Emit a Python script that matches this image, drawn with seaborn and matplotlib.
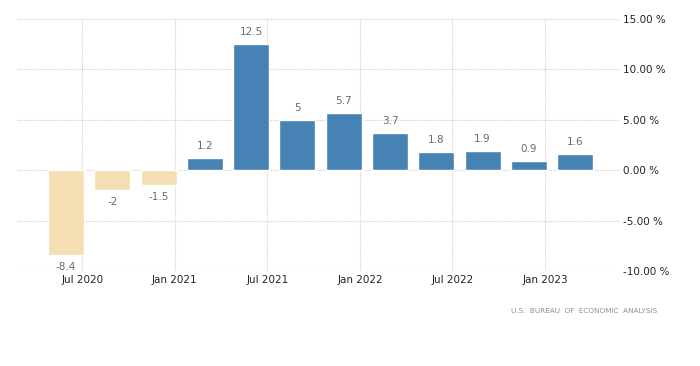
import seaborn as sns
import matplotlib.pyplot as plt
import pandas as pd

# quarterly GDP growth, Q2 2020 .. Q1 2023
quarters = ["2020Q2", "2020Q3", "2020Q4", "2021Q1", "2021Q2", "2021Q3",
            "2021Q4", "2022Q1", "2022Q2", "2022Q3", "2022Q4", "2023Q1"]
values = [-8.4, -2, -1.5, 1.2, 12.5, 5, 5.7, 3.7, 1.8, 1.9, 0.9, 1.6]
value_labels = ["-8.4", "-2", "-1.5", "1.2", "12.5", "5", "5.7", "3.7",
                "1.8", "1.9", "0.9", "1.6"]
x_tick_labels = ["Jul 2020", "Jan 2021", "Jul 2021", "Jan 2022",
                 "Jul 2022", "Jan 2023"]
y_ticks = [-10, -5, 0, 5, 10, 15]
source = "U.S.  BUREAU  OF  ECONOMIC  ANALYSIS"


def main():
    df = pd.DataFrame({"quarter": quarters, "value": values})
    df["sign"] = ["neg" if v < 0 else "pos" for v in values]

    sns.set_style("white")
    plt.rcParams["font.family"] = ["DejaVu Sans"]

    fig = plt.figure(figsize=(7, 3.66), dpi=100)
    ax = fig.add_axes([17 / 700, (366 - 271) / 366,
                       (620 - 17) / 700, (271 - 19) / 366])

    sns.barplot(data=df, x="quarter", y="value", hue="sign",
                palette={"pos": "#4682B4", "neg": "#F5DEB3"},
                width=0.78, legend=False, saturation=1, ax=ax)

    for i, (v, lab) in enumerate(zip(values, value_labels)):
        if v >= 0:
            ax.text(i, v + 0.7, lab, ha="center", va="bottom",
                    fontsize=7.5, color="#6b6b6b")
        else:
            ax.text(i, v - 0.7, lab, ha="center", va="top",
                    fontsize=7.5, color="#6b6b6b")

    ax.set_xlim(-1.06, 11.97)
    ax.set_ylim(-10, 15)
    ax.set_xticks([2 * k + 0.35 for k in range(len(x_tick_labels))])
    ax.set_xticklabels(x_tick_labels, fontsize=7.5, color="#222230")
    ax.set_yticks(y_ticks)
    ax.set_yticklabels(["%.2f %%" % t for t in y_ticks],
                       fontsize=7.5, color="#222230")
    ax.yaxis.tick_right()
    ax.tick_params(axis="both", length=0)
    ax.tick_params(axis="y", pad=2)
    ax.tick_params(axis="x", pad=3)
    ax.set_xlabel("")
    ax.set_ylabel("")
    ax.grid(True, color="#d0d0d0", linestyle=(0, (1, 1)), linewidth=0.8)
    ax.set_axisbelow(True)
    for s in ax.spines.values():
        s.set_visible(False)

    fig.text(657 / 700, 1 - 311 / 366, source,
             ha="right", va="center", fontsize=5.2, color="#8a8f9a")

    fig.savefig("out.png", dpi=100)


if __name__ == "__main__":
    main()
